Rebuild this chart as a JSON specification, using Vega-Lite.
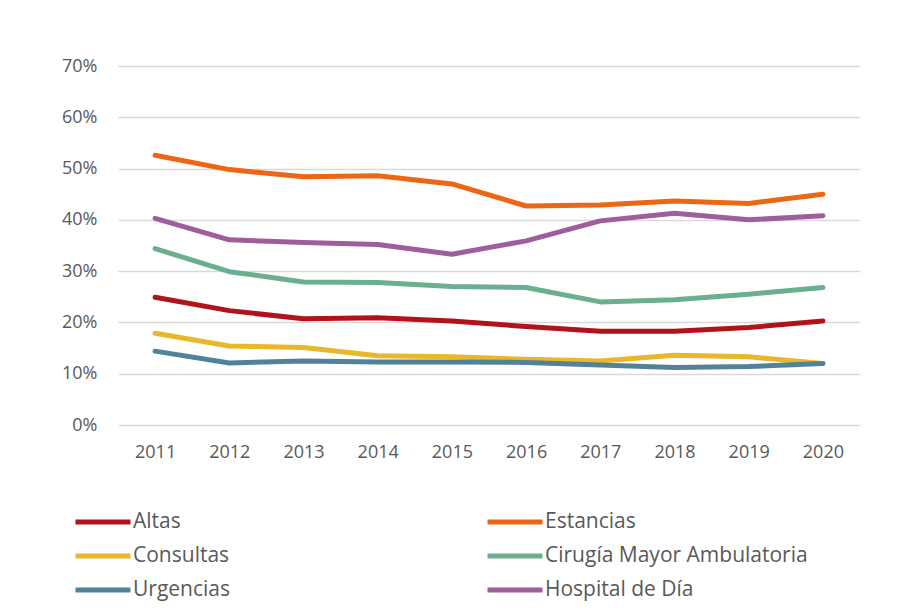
{
  "$schema": "https://vega.github.io/schema/vega-lite/v6.json",
  "width": 742,
  "height": 359,
  "autosize": {"type": "none"},
  "padding": {"left": 118, "top": 66, "right": 37, "bottom": 188},
  "background": "white",
  "config": {
    "view": {"stroke": null},
    "font": "Open Sans",
    "axis": {"labelFont": "Open Sans", "labelColor": "#595959", "labelFontSize": 18}
  },
  "data": {
    "values": [
      {"year": "2011", "serie": "Altas", "value": 24.9},
      {"year": "2012", "serie": "Altas", "value": 22.3},
      {"year": "2013", "serie": "Altas", "value": 20.7},
      {"year": "2014", "serie": "Altas", "value": 20.9},
      {"year": "2015", "serie": "Altas", "value": 20.3},
      {"year": "2016", "serie": "Altas", "value": 19.2},
      {"year": "2017", "serie": "Altas", "value": 18.3},
      {"year": "2018", "serie": "Altas", "value": 18.3},
      {"year": "2019", "serie": "Altas", "value": 19.0},
      {"year": "2020", "serie": "Altas", "value": 20.3},
      {"year": "2011", "serie": "Estancias", "value": 52.6},
      {"year": "2012", "serie": "Estancias", "value": 49.8},
      {"year": "2013", "serie": "Estancias", "value": 48.4},
      {"year": "2014", "serie": "Estancias", "value": 48.6},
      {"year": "2015", "serie": "Estancias", "value": 47.0},
      {"year": "2016", "serie": "Estancias", "value": 42.7},
      {"year": "2017", "serie": "Estancias", "value": 42.9},
      {"year": "2018", "serie": "Estancias", "value": 43.7},
      {"year": "2019", "serie": "Estancias", "value": 43.2},
      {"year": "2020", "serie": "Estancias", "value": 45.0},
      {"year": "2011", "serie": "Consultas", "value": 17.9},
      {"year": "2012", "serie": "Consultas", "value": 15.4},
      {"year": "2013", "serie": "Consultas", "value": 15.1},
      {"year": "2014", "serie": "Consultas", "value": 13.5},
      {"year": "2015", "serie": "Consultas", "value": 13.3},
      {"year": "2016", "serie": "Consultas", "value": 12.8},
      {"year": "2017", "serie": "Consultas", "value": 12.5},
      {"year": "2018", "serie": "Consultas", "value": 13.6},
      {"year": "2019", "serie": "Consultas", "value": 13.3},
      {"year": "2020", "serie": "Consultas", "value": 12.0},
      {"year": "2011", "serie": "Cirugía Mayor Ambulatoria", "value": 34.4},
      {"year": "2012", "serie": "Cirugía Mayor Ambulatoria", "value": 29.9},
      {"year": "2013", "serie": "Cirugía Mayor Ambulatoria", "value": 27.9},
      {"year": "2014", "serie": "Cirugía Mayor Ambulatoria", "value": 27.8},
      {"year": "2015", "serie": "Cirugía Mayor Ambulatoria", "value": 27.0},
      {"year": "2016", "serie": "Cirugía Mayor Ambulatoria", "value": 26.8},
      {"year": "2017", "serie": "Cirugía Mayor Ambulatoria", "value": 24.0},
      {"year": "2018", "serie": "Cirugía Mayor Ambulatoria", "value": 24.4},
      {"year": "2019", "serie": "Cirugía Mayor Ambulatoria", "value": 25.5},
      {"year": "2020", "serie": "Cirugía Mayor Ambulatoria", "value": 26.8},
      {"year": "2011", "serie": "Urgencias", "value": 14.4},
      {"year": "2012", "serie": "Urgencias", "value": 12.1},
      {"year": "2013", "serie": "Urgencias", "value": 12.5},
      {"year": "2014", "serie": "Urgencias", "value": 12.3},
      {"year": "2015", "serie": "Urgencias", "value": 12.3},
      {"year": "2016", "serie": "Urgencias", "value": 12.2},
      {"year": "2017", "serie": "Urgencias", "value": 11.7},
      {"year": "2018", "serie": "Urgencias", "value": 11.2},
      {"year": "2019", "serie": "Urgencias", "value": 11.4},
      {"year": "2020", "serie": "Urgencias", "value": 12.0},
      {"year": "2011", "serie": "Hospital de Día", "value": 40.3},
      {"year": "2012", "serie": "Hospital de Día", "value": 36.1},
      {"year": "2013", "serie": "Hospital de Día", "value": 35.6},
      {"year": "2014", "serie": "Hospital de Día", "value": 35.2},
      {"year": "2015", "serie": "Hospital de Día", "value": 33.3},
      {"year": "2016", "serie": "Hospital de Día", "value": 35.9},
      {"year": "2017", "serie": "Hospital de Día", "value": 39.8},
      {"year": "2018", "serie": "Hospital de Día", "value": 41.3},
      {"year": "2019", "serie": "Hospital de Día", "value": 40.0},
      {"year": "2020", "serie": "Hospital de Día", "value": 40.8}
    ]
  },
  "mark": {"type": "line", "strokeWidth": 5, "strokeCap": "round", "strokeJoin": "round"},
  "encoding": {
    "x": {
      "field": "year",
      "type": "ordinal",
      "scale": {"type": "point", "padding": 0.5},
      "axis": {
        "title": null,
        "labelAngle": 0,
        "domain": false,
        "ticks": false,
        "grid": false,
        "labelPadding": 18
      }
    },
    "y": {
      "field": "value",
      "type": "quantitative",
      "scale": {"domain": [0, 70], "nice": false},
      "axis": {
        "title": null,
        "values": [0, 10, 20, 30, 40, 50, 60, 70],
        "labelExpr": "datum.value + '%'",
        "domain": false,
        "ticks": false,
        "grid": true,
        "gridColor": "#d9d9d9",
        "gridWidth": 1.5,
        "labelPadding": 21
      }
    },
    "color": {
      "field": "serie",
      "type": "nominal",
      "sort": ["Altas", "Consultas", "Urgencias", "Estancias", "Cirugía Mayor Ambulatoria", "Hospital de Día"],
      "scale": {
        "domain": ["Altas", "Consultas", "Urgencias", "Estancias", "Cirugía Mayor Ambulatoria", "Hospital de Día"],
        "range": ["#B0141A", "#E8B82A", "#52829A", "#EC6615", "#6AAF8F", "#9E5E9B"]
      },
      "legend": {
        "title": null,
        "orient": "none",
        "legendX": -45,
        "legendY": 443,
        "columns": 2,
        "columnPadding": 254,
        "rowPadding": 8,
        "clipHeight": 26,
        "padding": 0,
        "symbolType": "stroke",
        "symbolSize": 3025,
        "symbolStrokeWidth": 5,
        "labelOffset": 0,
        "labelFont": "Open Sans",
        "labelFontSize": 21,
        "labelColor": "#595959",
        "labelLimit": 400
      }
    }
  }
}
